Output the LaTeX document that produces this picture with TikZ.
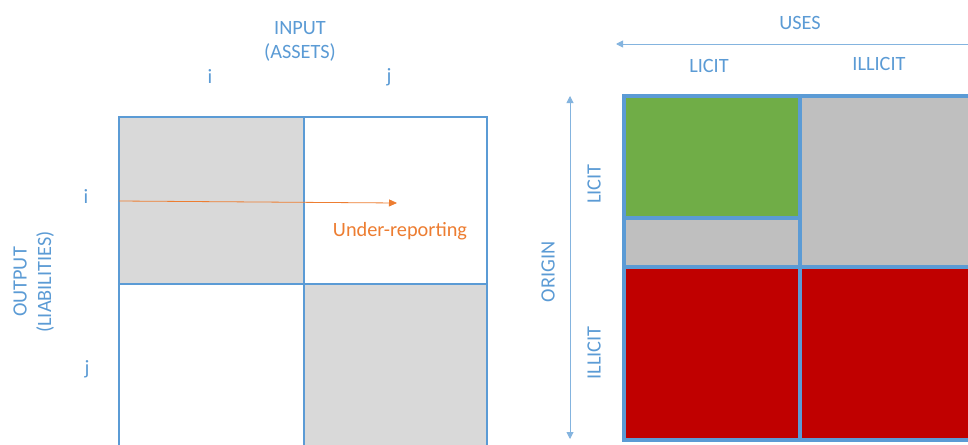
\documentclass[tikz,border=0pt]{standalone}
\usepackage{fontspec}
\setmainfont{Carlito}
\usetikzlibrary{arrows.meta}
\definecolor{lblue}{HTML}{5B9BD5}
\definecolor{pale}{HTML}{D9D9D9}
\definecolor{midgray}{HTML}{BFBFBF}
\definecolor{leafgreen}{HTML}{70AD47}
\definecolor{darkred}{HTML}{C00000}
\definecolor{rust}{HTML}{ED7D31}

\begin{document}
\begin{tikzpicture}[x=1pt,y=-1pt,
  lbl/.style={text=lblue,font=\fontsize{20.3}{24}\selectfont,inner sep=0pt},
  grid/.style={draw=lblue,line width=1.3pt},
  cell/.style={draw=lblue,line width=3.5pt}]
\clip (0,0) rectangle (968,444);
\fill[white] (0,0) rectangle (968,444);
% left matrix
\fill[pale] (119,117) rectangle (304,284);
\fill[pale] (304,284) rectangle (487,460);
\draw[grid] (119,117) rectangle (487,460);
\draw[grid] (304,117) -- (304,460);
\draw[grid] (119,284) -- (487,284);
\node[lbl] (input) at (300,28) {INPUT};
\node[lbl] (assets) at (300,52) {(ASSETS)};
\node[lbl] (coli) at (210,77) {i};
\node[lbl] (colj) at (389,77) {j};
\node[lbl] (rowi) at (86,197) {i};
\node[lbl] (rowj) at (87,369) {j};
\node[lbl,rotate=90] (output) at (20,282) {OUTPUT};
\node[lbl,rotate=90] (liab) at (45,282) {(LIABILITIES)};
\coordinate (repfrom) at (119,201);
\coordinate (repto) at (397,203);
\draw[rust,line width=0.8pt,-{Triangle[length=8pt,width=7pt]}] (repfrom) -- (repto);
\node[lbl,text=rust] (under) at (400,231) {Under-reporting};
% right matrix
\draw[cell,fill=leafgreen] (624,96) rectangle (800,218);
\draw[cell,fill=midgray] (624,218) rectangle (800,267);
\draw[cell,fill=midgray] (800,96) rectangle (990,267);
\draw[cell,fill=darkred] (624,267) rectangle (800,440);
\draw[cell,fill=darkred] (800,267) rectangle (990,440);
\node[lbl] (uses) at (800,23) {USES};
\node[lbl] (uselicit) at (709,66) {LICIT};
\node[lbl] (useillicit) at (879,64) {ILLICIT};
\coordinate (usesfrom) at (970,44);
\coordinate (usesto) at (616,44);
\draw[lblue!75,line width=0.9pt,-{Triangle[length=7pt,width=7pt]}] (usesfrom) -- (usesto);
\node[lbl,rotate=90] (origin) at (548,272) {ORIGIN};
\node[lbl,rotate=90] (orlicit) at (594,184) {LICIT};
\node[lbl,rotate=90] (orillicit) at (594,353) {ILLICIT};
\coordinate (origtop) at (570,96);
\coordinate (origbot) at (570,439);
\draw[lblue!75,line width=0.9pt,{Triangle[length=7pt,width=7pt]}-{Triangle[length=7pt,width=7pt]}] (origtop) -- (origbot);
\end{tikzpicture}
\end{document}
